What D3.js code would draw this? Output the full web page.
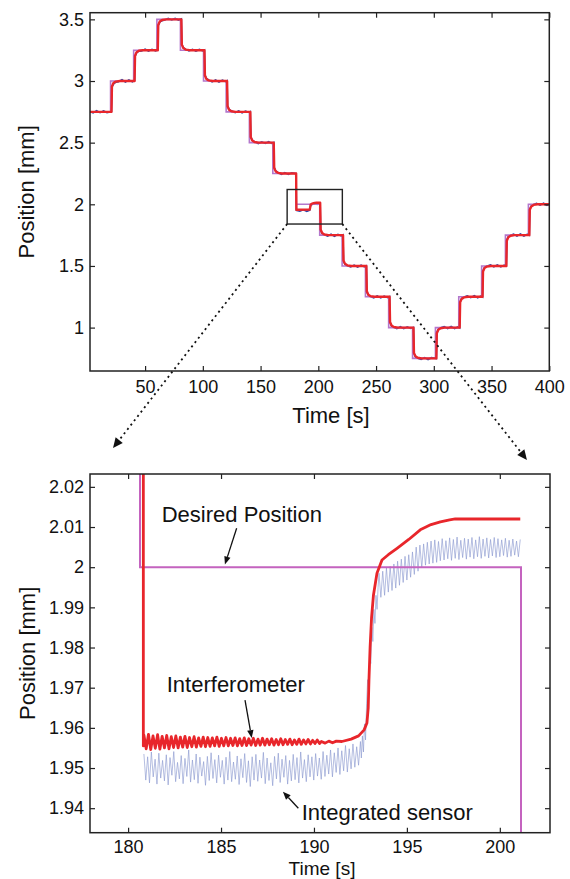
<!DOCTYPE html>
<html><head><meta charset="utf-8">
<script src="https://cdn.jsdelivr.net/npm/d3@7"></script>
<style>
html,body{margin:0;padding:0;background:#fff;}
svg{display:block;}
</style>
</head><body>
<svg id="c" width="570" height="879"></svg>
<script>
// ---------------- DATA ----------------
// Top panel: desired position steps
const stepTimes = [2.3, 20.1, 40.1, 60.2, 80.6, 100.6, 120.2, 140.3, 160.6, 180.8, 201.2, 220.6, 240.8, 260.9, 281.6, 301.4, 321.6, 341.4, 362.0, 381.9, 400];
const desiredLevels = [2.75, 3.0, 3.25, 3.5, 3.25, 3.0, 2.75, 2.5, 2.25, 2.0, 1.75, 1.5, 1.25, 1.0, 0.75, 1.0, 1.25, 1.5, 1.75, 2.0, 2.0];

// Top panel: interferometer [time, position]
const interfTop = [[2.3,2.75],[20.9,2.75],[21.3,2.955],[22.6,2.983],[24.6,2.995],[28.1,3.0],
[40.9,3.0],[41.3,3.205],[42.6,3.233],[44.6,3.245],[48.1,3.25],
[61.0,3.25],[61.4,3.455],[62.7,3.483],[64.7,3.495],[68.2,3.5],
[81.4,3.5],[81.8,3.295],[83.1,3.267],[85.1,3.255],[88.6,3.25],
[101.4,3.25],[101.8,3.045],[103.1,3.017],[105.1,3.005],[108.6,3.0],
[121.0,3.0],[121.4,2.795],[122.7,2.767],[124.7,2.755],[128.2,2.75],
[141.1,2.75],[141.5,2.545],[142.8,2.517],[144.8,2.505],[148.3,2.5],
[161.4,2.5],[161.8,2.295],[163.1,2.267],[165.1,2.255],[168.6,2.25],
[180.8,2.25],[181.0,1.956],[192.6,1.958],[192.95,1.975],[193.4,1.999],[194.5,2.005],[196.8,2.011],[197.6,2.012],
[201.6,2.012],[202.0,1.795],[203.3,1.767],[205.3,1.755],[208.8,1.75],
[221.4,1.75],[221.8,1.545],[223.1,1.517],[225.1,1.505],[228.6,1.5],
[241.6,1.5],[242.0,1.295],[243.3,1.267],[245.3,1.255],[248.8,1.25],
[261.7,1.25],[262.1,1.045],[263.4,1.017],[265.4,1.005],[268.9,1.0],
[282.4,1.0],[282.8,0.795],[284.1,0.767],[286.1,0.755],[289.6,0.75],
[302.2,0.75],[302.6,0.955],[303.9,0.983],[305.9,0.995],[309.4,1.0],
[322.4,1.0],[322.8,1.205],[324.1,1.233],[326.1,1.245],[329.6,1.25],
[342.2,1.25],[342.6,1.455],[343.9,1.483],[345.9,1.495],[349.4,1.5],
[362.8,1.5],[363.2,1.705],[364.5,1.733],[366.5,1.745],[370.0,1.75],
[382.7,1.75],[383.1,1.955],[384.4,1.983],[386.4,1.995],[389.9,2.0],
[400,2.0]];

// Top panel: integrated sensor [time, position]
const sensorTop = [[2.3,2.752],[5,2.741],[8,2.760],[11,2.743],[14,2.758],[17,2.744],[20.9,2.752],
[21.3,2.95],[22.6,2.975],[24.6,2.99],[27,2.994],[30,3.010],[33,2.992],[36,3.009],[39,2.993],[40.9,3.003],
[41.3,3.2],[42.6,3.228],[44.6,3.242],[47,3.244],[50,3.258],[53,3.243],[56,3.257],[59,3.245],[61.0,3.252],
[61.4,3.45],[62.7,3.478],[64.7,3.49],[67,3.494],[70,3.508],[73,3.495],[76,3.507],[79,3.494],[81.4,3.503],
[81.8,3.3],[83.1,3.27],[85.1,3.258],[88,3.244],[91,3.257],[94,3.243],[97,3.256],[100,3.245],[101.4,3.251],
[101.8,3.05],[103.1,3.02],[105.1,3.008],[108,2.993],[111,3.008],[114,2.992],[117,3.007],[120,2.994],[121.0,3.001],
[121.4,2.8],[122.7,2.77],[124.7,2.758],[128,2.743],[131,2.757],[134,2.742],[137,2.756],[140,2.745],[141.1,2.751],
[141.5,2.55],[142.8,2.52],[144.8,2.508],[148,2.493],[151,2.507],[154,2.494],[157,2.508],[160,2.492],[161.4,2.501],
[161.8,2.3],[163.1,2.27],[165.1,2.258],[168,2.243],[171,2.257],[174,2.242],[177,2.256],[180.8,2.248],
[181.0,1.95],[184,1.944],[187,1.955],[190,1.943],[192.6,1.953],[193.0,1.975],[193.4,1.992],[195,2.0],[197,2.009],[199,2.0],[201.6,2.008],
[202.0,1.79],[203.3,1.762],[205.3,1.752],[208,1.742],[211,1.757],[214,1.741],[217,1.756],[220,1.743],[221.4,1.751],
[221.8,1.54],[223.1,1.512],[225.1,1.502],[228,1.492],[231,1.507],[234,1.491],[237,1.506],[240,1.493],[241.6,1.501],
[242.0,1.29],[243.3,1.262],[245.3,1.252],[248,1.242],[251,1.257],[254,1.241],[257,1.256],[260,1.243],[261.7,1.251],
[262.1,1.04],[263.4,1.012],[265.4,1.002],[268,0.992],[271,1.007],[274,0.991],[277,1.006],[280,0.993],[282.4,1.001],
[282.8,0.79],[284.1,0.762],[286.1,0.752],[289,0.742],[292,0.757],[295,0.741],[298,0.756],[302.2,0.749],
[302.6,0.96],[303.9,0.988],[305.9,0.998],[309,1.008],[312,0.993],[315,1.009],[318,0.992],[321,1.007],[322.4,0.999],
[322.8,1.21],[324.1,1.238],[326.1,1.248],[329,1.258],[332,1.243],[335,1.259],[338,1.242],[341,1.257],[342.2,1.249],
[342.6,1.46],[343.9,1.488],[345.9,1.498],[349,1.508],[352,1.493],[355,1.509],[358,1.492],[361,1.507],[362.8,1.499],
[363.2,1.71],[364.5,1.738],[366.5,1.748],[369,1.758],[372,1.743],[375,1.759],[378,1.742],[381,1.757],[382.7,1.749],
[383.1,1.96],[384.4,1.988],[386.4,1.998],[389,2.008],[392,1.993],[395,2.009],[398,1.992],[400,2.004]];

const topXTicks = [50, 100, 150, 200, 250, 300, 350, 400];
const topYTicks = [1, 1.5, 2, 2.5, 3, 3.5];
const zoomBox = [[173, 1.84], [220.8, 2.12]];

// Bottom panel: desired position [time, position]
const desiredZoom = [[180.64, 2.03], [180.64, 2.0], [201.14, 2.0], [201.14, 1.92]];

// Bottom panel: interferometer
const interfZoomHead = [[180.82, 2.03], [180.82, 1.9555]];
const interfRippleSpan = [180.85, 190.3];
const interfRipple = [1.9582,1.9548,1.9584,1.9546,1.9580,1.9549,1.9583,1.9547,1.9579,1.9550,
1.9581,1.9548,1.9578,1.9551,1.9580,1.9550,1.9577,1.9552,1.9579,1.9551,
1.9576,1.9553,1.9578,1.9552,1.9575,1.9554,1.9577,1.9553,1.9576,1.9554,
1.9575,1.9555,1.9577,1.9554,1.9574,1.9555,1.9576,1.9555,1.9574,1.9556,
1.9575,1.9555,1.9573,1.9556,1.9575,1.9556,1.9573,1.9557,1.9574,1.9556,
1.9572,1.9557,1.9574,1.9557,1.9572,1.9558,1.9573,1.9557,1.9571,1.9558,
1.9573,1.9558,1.9571,1.9559,1.9572,1.9558,1.9570,1.9559,1.9572,1.9559,
1.9570,1.9560,1.9571,1.9560,1.9569,1.9561,1.9570,1.9561];
const interfZoomTail = [[190.4,1.9566],[190.6,1.9562],[190.8,1.9567],[191.0,1.9563],[191.2,1.9567],[191.5,1.9566],
[192.0,1.9572],[192.4,1.9580],[192.7,1.9595],[192.85,1.9612],[192.92,1.9650],[192.96,1.9720],[193.02,1.9800],
[193.1,1.9875],[193.2,1.9930],[193.39,1.9985],[193.66,2.0018],[194.0,2.0031],[194.47,2.0047],[195.1,2.0069],
[195.72,2.0093],[196.3,2.0106],[196.8,2.0113],[197.3,2.0118],[197.6,2.0120],[199.0,2.0120],[201.1,2.0120]];

// Bottom panel: integrated sensor (three sampled stretches)
const sensorSpan1 = [180.85, 192.5];
const sensor1 = [1.9535,1.9470,1.9528,1.9463,1.9540,1.9478,1.9522,1.9460,1.9537,1.9475,
1.9519,1.9468,1.9533,1.9458,1.9526,1.9482,1.9541,1.9466,1.9514,1.9473,
1.9531,1.9461,1.9524,1.9479,1.9545,1.9465,1.9520,1.9471,1.9535,1.9462,
1.9527,1.9480,1.9516,1.9457,1.9529,1.9469,1.9538,1.9474,1.9521,1.9463,
1.9532,1.9477,1.9519,1.9460,1.9527,1.9470,1.9541,1.9466,1.9515,1.9472,
1.9530,1.9459,1.9523,1.9476,1.9536,1.9464,1.9518,1.9454,1.9528,1.9470,
1.9534,1.9467,1.9520,1.9475,1.9539,1.9461,1.9525,1.9469,1.9513,1.9456,
1.9529,1.9473,1.9537,1.9464,1.9522,1.9477,1.9531,1.9460,1.9519,1.9468,
1.9534,1.9471,1.9526,1.9463,1.9540,1.9475,1.9521,1.9466,1.9533,1.9478,
1.9528,1.9470,1.9536,1.9480,1.9525,1.9472,1.9541,1.9479,1.9532,1.9485,
1.9545,1.9478,1.9538,1.9489,1.9550,1.9484,1.9543,1.9493,1.9556,1.9490,
1.9548,1.9498,1.9560,1.9502,1.9553,1.9507,1.9566];
const sensorSpan2 = [192.55, 193.45];
const sensor2 = [1.9525,1.9580,1.9540,1.9610,1.9570,1.9660,1.9720,1.9690,1.9790,1.9760,1.9850,1.9815,1.9895,1.9860,1.9930,1.9895,1.9950];
const sensorSpan3 = [193.5, 201.1];
const sensor3 = [1.9985,1.9925,1.9990,1.9930,1.9998,1.9938,2.0002,1.9942,2.0008,1.9948,
2.0015,1.9955,2.0020,1.9962,2.0027,1.9968,2.0031,1.9975,2.0038,1.9982,
2.0050,1.9990,2.0055,1.9998,2.0058,2.0005,2.0062,2.0008,2.0065,2.0010,
2.0068,2.0012,2.0064,2.0016,2.0071,2.0018,2.0066,2.0021,2.0073,2.0017,
2.0069,2.0022,2.0075,2.0019,2.0067,2.0024,2.0072,2.0020,2.0070,2.0025,
2.0074,2.0021,2.0068,2.0026,2.0076,2.0022,2.0070,2.0027,2.0073,2.0023,
2.0069,2.0028,2.0074,2.0024,2.0071,2.0026,2.0068,2.0029,2.0072,2.0025,
2.0067,2.0027,2.0070,2.0030,2.0065,2.0026,2.0069];

const botXTicks = [180, 185, 190, 195, 200];
const botYTicks = [1.94, 1.95, 1.96, 1.97, 1.98, 1.99, 2, 2.01, 2.02];

// Annotations (bottom panel data coordinates)
const annoTexts = [
  {text: "Desired Position", t: 181.81, v: 2.01133},
  {text: "Interferometer", t: 182.08, v: 1.96885},
  {text: "Integrated sensor", t: 189.34, v: 1.93706}
];
const annoArrows = [
  {from: [185.84, 2.00968], to: [185.21, 2.00067]},
  {from: [186.29, 1.96693], to: [186.65, 1.95745]},
  {from: [189.16, 1.93998], to: [188.33, 1.94411]}
];
const zoomArrowTips = [[179.19, 2.02967], [201.46, 2.02669]];

// ---------------- DRAWING ----------------
const FONT = "'Liberation Sans', Arial, Helvetica, sans-serif";
const svg = d3.select("#c");
svg.append("rect").attr("width", 570).attr("height", 879).attr("fill", "#fff");

const topBox = {l: 90, r: 549.3, t: 12.7, b: 371};
const botBox = {l: 90, r: 550, t: 474, b: 832.7};

const xT = d3.scaleLinear().domain([2.3, 400]).range([topBox.l, topBox.r]);
const yT = d3.scaleLinear().domain([0.648, 3.554]).range([topBox.b, topBox.t]);
const xB = d3.scaleLinear().domain([177.95, 202.7]).range([botBox.l, botBox.r]);
const yB = d3.scaleLinear().domain([1.9339, 2.0232]).range([botBox.b, botBox.t]);

const defs = svg.append("defs");
function clip(id, b) {
  defs.append("clipPath").attr("id", id).append("rect")
    .attr("x", b.l).attr("y", b.t).attr("width", b.r - b.l).attr("height", b.b - b.t);
}
clip("clipTop", topBox);
clip("clipBot", botBox);

function sampled(span, vals) {
  const n = vals.length;
  return vals.map((v, i) => [span[0] + i * (span[1] - span[0]) / (n - 1), v]);
}

// ----- top panel lines -----
const gTop = svg.append("g").attr("clip-path", "url(#clipTop)");
const lineT = d3.line().x(d => xT(d[0])).y(d => yT(d[1]));
const desiredTop = stepTimes.map((t, i) => [t, desiredLevels[i]]);

gTop.append("path").datum(sensorTop).attr("d", lineT)
  .attr("fill", "none").attr("stroke", "#2a44a8").attr("stroke-width", 1.6);
gTop.append("path").datum(desiredTop).attr("d", lineT.curve(d3.curveStepAfter))
  .attr("fill", "none").attr("stroke", "#b377cc").attr("stroke-width", 1.6);
lineT.curve(d3.curveLinear);
gTop.append("path").datum(interfTop).attr("d", lineT)
  .attr("fill", "none").attr("stroke", "#e8262b").attr("stroke-width", 2.4).attr("stroke-linejoin", "round");

// ----- bottom panel lines -----
const gBot = svg.append("g").attr("clip-path", "url(#clipBot)");
const lineB = d3.line().x(d => xB(d[0])).y(d => yB(d[1]));
const sensorZoom = [].concat(sampled(sensorSpan1, sensor1), sampled(sensorSpan2, sensor2), sampled(sensorSpan3, sensor3));
gBot.append("path").datum(sensorZoom).attr("d", lineB)
  .attr("fill", "none").attr("stroke", "#8a98cf").attr("stroke-width", 0.75).attr("stroke-opacity", 0.85);
gBot.append("path").datum(desiredZoom).attr("d", lineB)
  .attr("fill", "none").attr("stroke", "#c463bf").attr("stroke-width", 2);
const interfZoom = [].concat(interfZoomHead, sampled(interfRippleSpan, interfRipple), interfZoomTail);
gBot.append("path").datum(interfZoom).attr("d", lineB)
  .attr("fill", "none").attr("stroke", "#e8262b").attr("stroke-width", 2.8).attr("stroke-linejoin", "round");

// ----- axes -----
function drawAxes(x, y, xticks, yticks, b, pad) {
  const g = svg.append("g");
  g.append("g").attr("transform", `translate(0,${b.b})`)
    .call(d3.axisBottom(x).tickValues(xticks).tickSize(-5).tickPadding(pad).tickFormat(d => String(d)));
  g.append("g").attr("transform", `translate(0,${b.t})`)
    .call(d3.axisTop(x).tickValues(xticks).tickSize(-5).tickFormat(""));
  g.append("g").attr("transform", `translate(${b.l},0)`)
    .call(d3.axisLeft(y).tickValues(yticks).tickSize(-5).tickPadding(6).tickFormat(d => String(d)));
  g.append("g").attr("transform", `translate(${b.r},0)`)
    .call(d3.axisRight(y).tickValues(yticks).tickSize(-5).tickFormat(""));
  g.selectAll(".domain").remove();
  g.selectAll(".tick line").attr("stroke", "#222").attr("stroke-width", 1.2);
  g.selectAll(".tick text").attr("font-size", 18).attr("font-family", FONT).attr("fill", "#111");
  g.append("rect").attr("x", b.l).attr("y", b.t).attr("width", b.r - b.l).attr("height", b.b - b.t)
    .attr("fill", "none").attr("stroke", "#222").attr("stroke-width", 1.5);
}
drawAxes(xT, yT, topXTicks, topYTicks, topBox, 9);
drawAxes(xB, yB, botXTicks, botYTicks, botBox, 7.5);

// axis titles
function label(txt, x, y, rot, size) {
  const t = svg.append("text").attr("font-family", FONT).attr("font-size", size).attr("fill", "#111")
    .attr("text-anchor", "middle").text(txt);
  if (rot) t.attr("transform", `translate(${x},${y}) rotate(-90)`);
  else t.attr("x", x).attr("y", y);
}
label("Time [s]", 331, 423, false, 22);
label("Position [mm]", 33.5, (topBox.t + topBox.b) / 2, true, 22);
label("Time [s]", 322, 874.5, false, 19);
label("Position [mm]", 35, (botBox.t + botBox.b) / 2, true, 22);

// zoom box
svg.append("rect")
  .attr("x", xT(zoomBox[0][0])).attr("y", yT(zoomBox[1][1]))
  .attr("width", xT(zoomBox[1][0]) - xT(zoomBox[0][0]))
  .attr("height", yT(zoomBox[0][1]) - yT(zoomBox[1][1]))
  .attr("fill", "none").attr("stroke", "#222").attr("stroke-width", 1.4);

function arrow(x1, y1, x2, y2, len, hw, sw, dash) {
  const a = Math.atan2(y2 - y1, x2 - x1);
  const bx = x2 - len * Math.cos(a), by = y2 - len * Math.sin(a);
  const ln = svg.append("line").attr("x1", x1).attr("y1", y1).attr("x2", bx).attr("y2", by)
    .attr("stroke", "#111").attr("stroke-width", sw);
  if (dash) ln.attr("stroke-dasharray", dash);
  const p = [[x2, y2], [bx + hw * Math.sin(a), by - hw * Math.cos(a)], [bx - hw * Math.sin(a), by + hw * Math.cos(a)]];
  svg.append("polygon").attr("points", p.map(q => q.join(",")).join(" ")).attr("fill", "#111");
}
// dotted zoom connectors
arrow(xT(zoomBox[0][0]), yT(zoomBox[0][1]), xB(zoomArrowTips[0][0]), yB(zoomArrowTips[0][1]), 10, 4.5, 1.8, "2,3.5");
arrow(xT(zoomBox[1][0]), yT(zoomBox[0][1]), xB(zoomArrowTips[1][0]), yB(zoomArrowTips[1][1]), 10, 4.5, 1.8, "2,3.5");

// annotations
annoTexts.forEach(a => {
  svg.append("text").attr("x", xB(a.t)).attr("y", yB(a.v)).attr("font-family", FONT)
    .attr("font-size", 22).attr("fill", "#111").text(a.text);
});
annoArrows.forEach(a => {
  arrow(xB(a.from[0]), yB(a.from[1]), xB(a.to[0]), yB(a.to[1]), 8, 3.2, 1.3, null);
});
</script>
</body></html>
